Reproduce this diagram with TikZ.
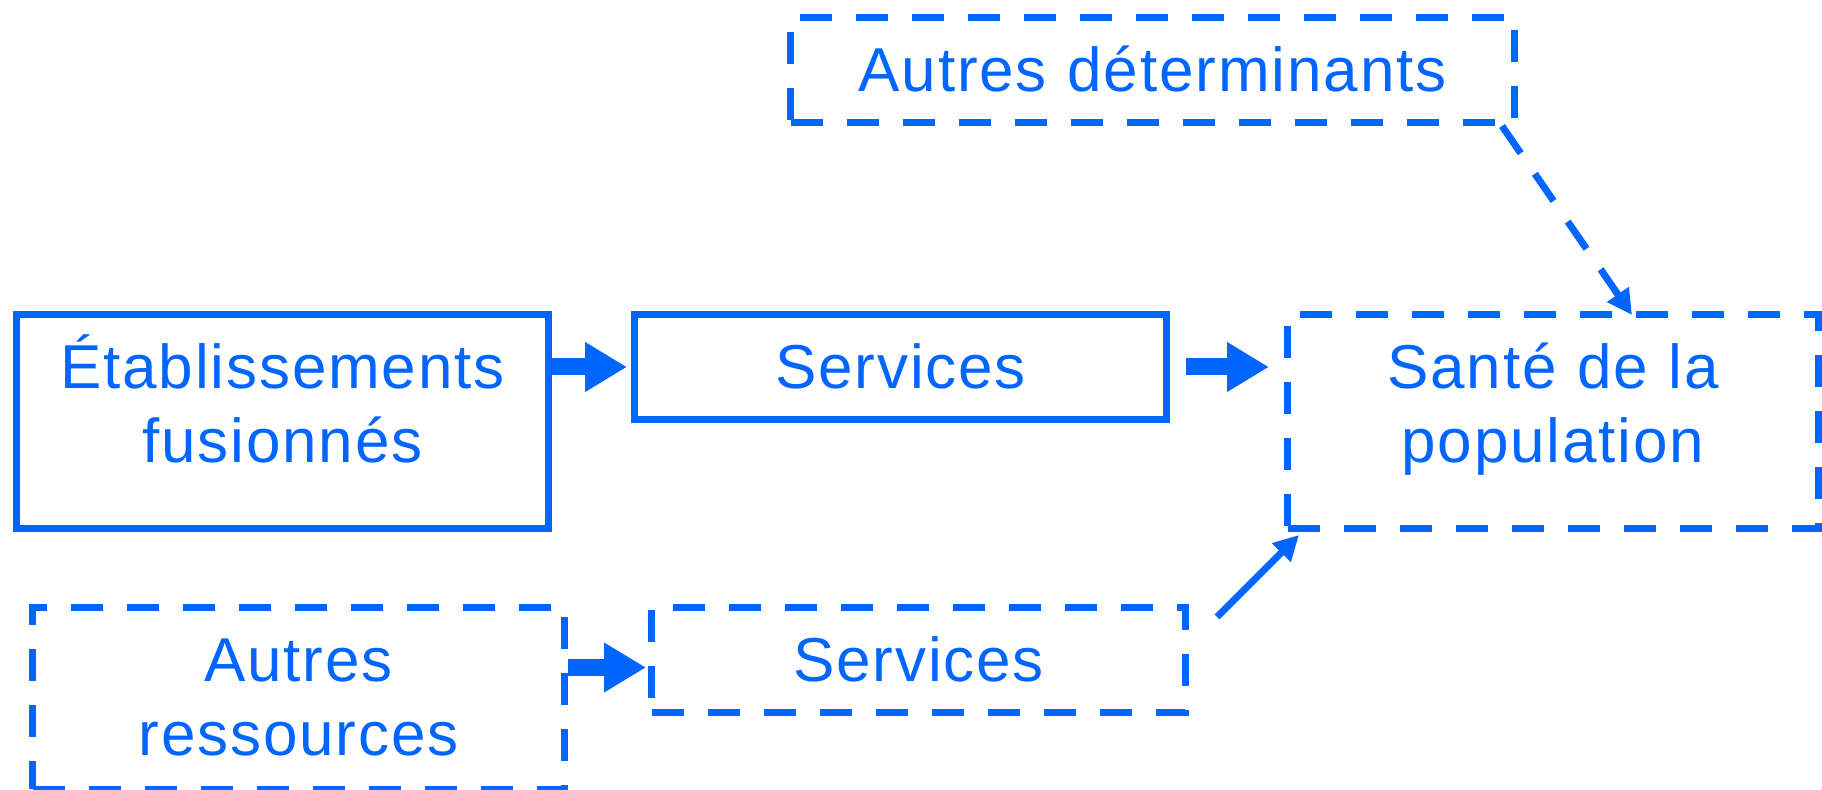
\documentclass[tikz,border=0pt]{standalone}
\usepackage{fontspec}
\setmainfont{Liberation Sans}[LetterSpace=3]
\usetikzlibrary{arrows.meta}

\definecolor{fluxblue}{HTML}{0066FF}

\tikzset{
  box/.style={draw=fluxblue, text=fluxblue, line width=3.5pt, inner sep=0pt,
    anchor=north west, align=center, text height=37pt,
    font=\fontsize{31pt}{37pt}\selectfont},
  solidbox/.style={box},
  dashbox/.style={box, dash pattern=on 16pt off 12pt},
  oneline/.style={text depth=15.5pt},
  bigarrow/.style={fluxblue, line width=8.5pt, -{Triangle[length=21pt,width=23.5pt]}},
  thinarrow/.style={fluxblue, line width=3.5pt, -{Triangle[length=12.5pt,width=12.5pt]}},
  dasharrow/.style={thinarrow, dash pattern=on 16.5pt off 12.5pt},
}

\begin{document}
\begin{tikzpicture}[x=0.5pt, y=-0.5pt]
  \useasboundingbox (0,0) rectangle (1822,790);

  % boxes
  \node[solidbox, text width=266pt, text depth=70pt] (etab) at (13,311)
    {Établissements\\fusionnés};
  \node[solidbox, oneline, text width=266pt] (servA) at (631,311) {Services};
  \node[dashbox, text width=265.5pt, text depth=70pt] (sante) at (1284,311)
    {Santé de la\\population};
  \node[dashbox, oneline, text width=362pt] (autdet) at (787,14)
    {Autres déterminants};
  \node[dashbox, text width=266pt, text depth=54pt] (autres) at (29,604)
    {Autres\\ressources};
  \node[dashbox, oneline, text width=267pt] (servB) at (648,604) {Services};

  % links
  \draw[bigarrow, shorten >=2pt] (servA.west -| etab.east) -- (servA.west);
  \draw[bigarrow, shorten <=8pt, shorten >=7.5pt] (servA.east) -- (servA.east -| sante.west);
  \draw[bigarrow, shorten >=1pt] ([yshift=-3.75pt]servB.west -| autres.east) -- ([yshift=-3.75pt]servB.west);
  \draw[thinarrow] ([xshift=14pt,yshift=-6.5pt]servB.north east)
    -- ([xshift=7.5pt,yshift=-1.5pt]sante.south west);
  \draw[dasharrow] ([xshift=-8pt]autdet.south east)
    -- ([xshift=174pt,yshift=-2pt]sante.north west);
\end{tikzpicture}
\end{document}
